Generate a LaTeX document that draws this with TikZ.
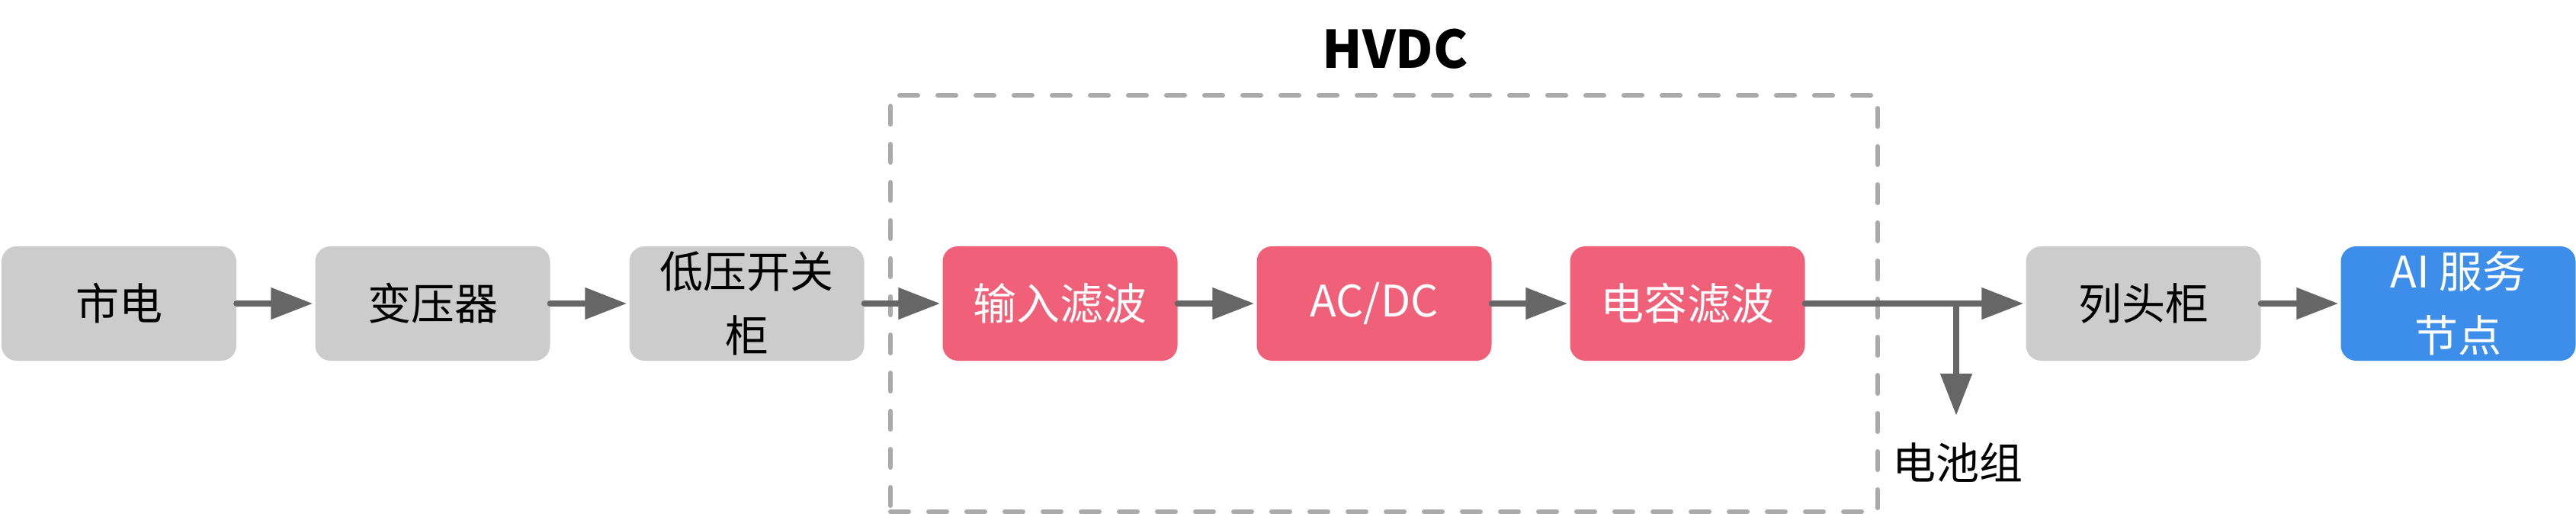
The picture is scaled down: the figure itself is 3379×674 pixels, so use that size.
\documentclass[tikz,border=0pt]{standalone}
\usepackage{fontspec}
\setmainfont{Noto Sans CJK SC}
\usetikzlibrary{arrows.meta}
\definecolor{boxgray}{HTML}{CCCCCC}
\definecolor{boxpink}{HTML}{F06179}
\definecolor{boxblue}{HTML}{3D8EEA}
\definecolor{arrowgray}{HTML}{666666}
\definecolor{dashgray}{HTML}{AAAAAA}
\begin{document}
\begin{tikzpicture}[x=1pt,y=-1pt,
  blk/.style={rounded corners=20pt, minimum width=308pt, minimum height=150pt, inner sep=0pt, align=center, font=\fontsize{57pt}{84pt}\selectfont},
  grayblk/.style={blk, fill=boxgray, text=black},
  pinkblk/.style={blk, fill=boxpink, text=white},
  blueblk/.style={blk, fill=boxblue, text=white},
  conn/.style={draw=arrowgray, line width=8pt, line cap=round, -{Triangle[length=55pt,width=40pt]}},
  dashbox/.style={draw=dashgray, line width=6pt, line cap=round, dash pattern=on 24pt off 26pt, minimum width=1295pt, minimum height=546pt, inner sep=0pt},
  lbl/.style={inner sep=0pt, font=\fontsize{57pt}{84pt}\selectfont},
]
\useasboundingbox (0,0) rectangle (3379,674);
\node[dashbox] (hvdc) at (1815.5,398) {};
\node[inner sep=0pt, font=\fontsize{68pt}{76pt}\selectfont\bfseries] (hvdclbl) at (1830,64) {HVDC};
\node[grayblk] (sd) at (156,398) {市电};
\node[grayblk] (byq) at (567.5,398) {变压器};
\node[grayblk] (dy) at (979.5,398) {低压开关\\柜};
\node[pinkblk] (srlb) at (1390.5,398) {输入滤波};
\node[pinkblk] (acdc) at (1802.5,398) {AC/DC};
\node[pinkblk] (drlb) at (2213.5,398) {电容滤波};
\node[grayblk] (ltg) at (2811.5,398) {列头柜};
\node[blueblk] (ai) at (3224.5,398) {AI 服务\\节点};
\node[lbl] (bat) at (2568,607) {电池组};
\coordinate (j) at (2566,398);
\draw[conn, shorten >=3pt] (sd) -- (byq);
\draw[conn, shorten >=3pt] (byq) -- (dy);
\draw[conn, shorten >=3pt] (dy) -- (srlb);
\draw[conn, shorten >=3pt] (srlb) -- (acdc);
\draw[conn, shorten >=3pt] (acdc) -- (drlb);
\draw[conn, shorten >=3pt] (drlb) -- (ltg);
\draw[conn, shorten >=3pt] (ltg) -- (ai);
\draw[conn, shorten >=36pt] (j) -- (j |- bat.north);
\end{tikzpicture}
\end{document}
